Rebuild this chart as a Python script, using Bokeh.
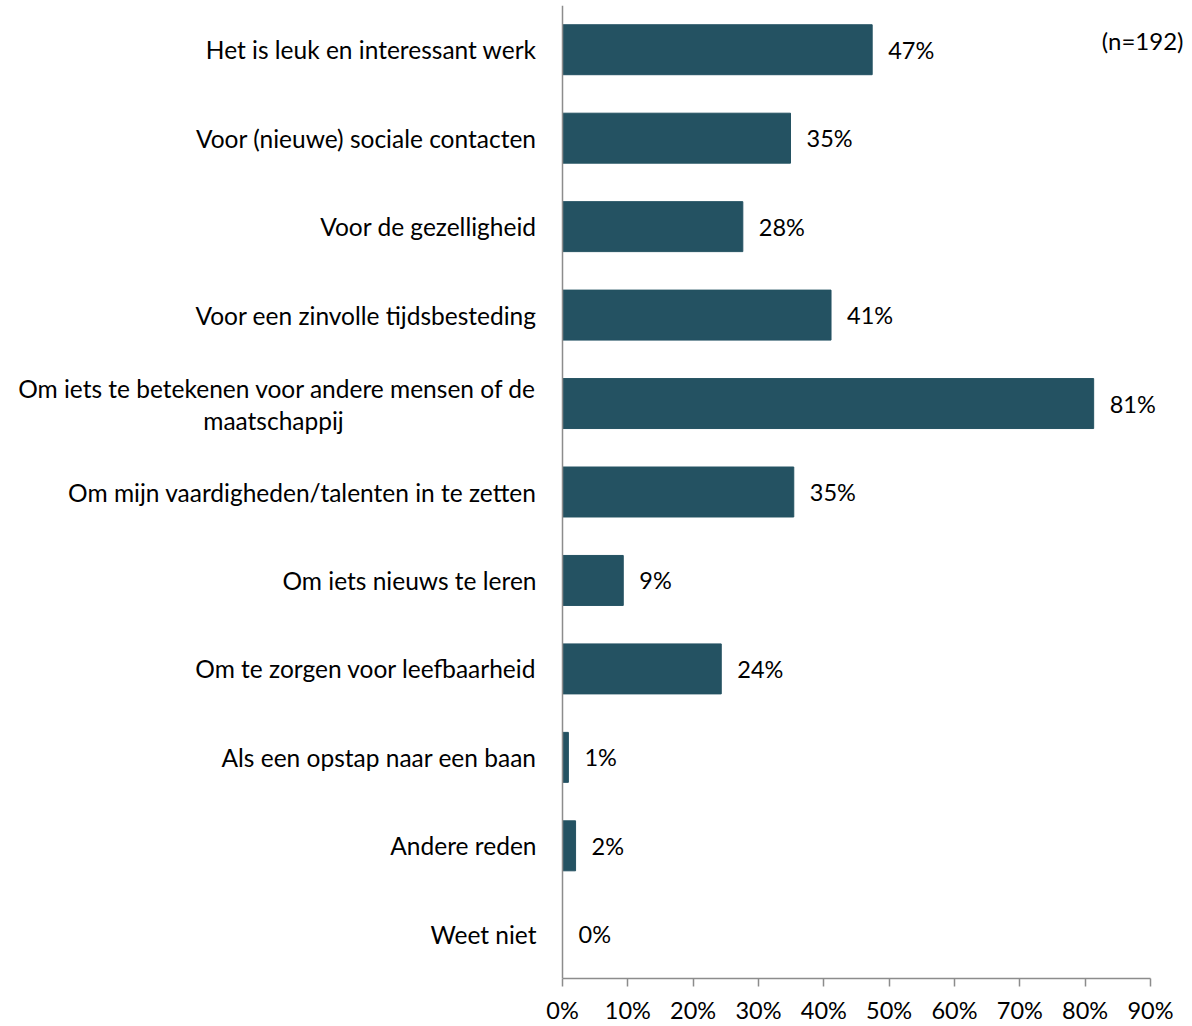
from bokeh.plotting import figure
from bokeh.models import Range1d, FixedTicker, Span, ColumnDataSource
from bokeh.core.properties import value
from bokeh.embed import file_html
from bokeh.resources import INLINE

categories = [
    "Het is leuk en interessant werk",
    "Voor (nieuwe) sociale contacten",
    "Voor de gezelligheid",
    "Voor een zinvolle tijdsbesteding",
    "Om iets te betekenen voor andere mensen of de\nmaatschappij",
    "Om mijn vaardigheden/talenten in te zetten",
    "Om iets nieuws te leren",
    "Om te zorgen voor leefbaarheid",
    "Als een opstap naar een baan",
    "Andere reden",
    "Weet niet",
]
values = [47.4, 34.9, 27.6, 41.1, 81.3, 35.4, 9.3, 24.3, 0.9, 2.0, 0.0]
value_labels = ["47%", "35%", "28%", "41%", "81%", "35%", "9%", "24%", "1%", "2%", "0%"]
x_ticks = [0, 10, 20, 30, 40, 50, 60, 70, 80, 90]
x_tick_labels = ["0%", "10%", "20%", "30%", "40%", "50%", "60%", "70%", "80%", "90%"]
note = "(n=192)"

FONT = "Lato"
FS = "23.5px"
FS_CAT = "24.5px"
BAR = "#245262"
GREY = "#8c8c8c"

W, H = 1188, 1026
TOP, BOTTOM = 5, 46
X0_PX, X90_PX = 562, 1150          # pixel positions of 0% and 90%
ppu = (X90_PX - X0_PX) / 90.0
x_start = -X0_PX / ppu
x_end = (W - X0_PX) / ppu

n = len(categories)
ypos = [i + 0.5 for i in range(n)]

p = figure(width=W, height=H, output_backend="svg", toolbar_location=None,
           x_range=Range1d(x_start, x_end), y_range=Range1d(n, 0),
           y_axis_location=None, min_border_left=0, min_border_right=0,
           min_border_top=TOP, min_border_bottom=BOTTOM)
p.outline_line_color = None
p.xgrid.visible = False
p.ygrid.visible = False

src = ColumnDataSource(dict(y=ypos, v=values, lab=value_labels))
p.hbar(y="y", left=0, right="v", height=0.565, color=BAR, source=src)
p.text(x="v", y="y", text="lab", source=src, x_offset=16, text_align="left",
       text_baseline="middle", text_font=value(FONT), text_font_size=FS, text_color="black")

# category labels
single_y, single_t = [], []
for i, c in enumerate(categories):
    parts = c.split("\n")
    if len(parts) == 1:
        single_y.append(ypos[i]); single_t.append(c)
    else:
        p.text(x=[0], y=[ypos[i]], text=[parts[0]], x_offset=-26, y_offset=-15,
               text_align="right", text_baseline="middle", text_font=value(FONT),
               text_font_size=FS_CAT, text_color="black")
        p.text(x=[0], y=[ypos[i]], text=[parts[1]], x_offset=-289, y_offset=17,
               text_align="center", text_baseline="middle", text_font=value(FONT),
               text_font_size=FS_CAT, text_color="black")
p.text(x=[0]*len(single_y), y=single_y, text=single_t, x_offset=-26,
       text_align="right", text_baseline="middle", text_font=value(FONT),
       text_font_size=FS_CAT, text_color="black")

p.text(x=[x_end], y=[0.4], text=[note], x_offset=-5, text_align="right",
       text_baseline="middle", text_font=value(FONT), text_font_size="24px", text_color="black")

p.add_layout(Span(location=0, dimension="height", line_color=GREY, line_width=1.5))

ax = p.xaxis[0]
ax.bounds = (0, 90)
ax.ticker = FixedTicker(ticks=x_ticks)
ax.major_label_overrides = {t: l for t, l in zip(x_ticks, x_tick_labels)}
ax.axis_line_color = GREY
ax.axis_line_width = 1.5
ax.major_tick_line_color = GREY
ax.major_tick_line_width = 1.5
ax.major_tick_in = 0
ax.major_tick_out = 8
ax.minor_tick_line_color = None
ax.major_label_text_font = FONT
ax.major_label_text_font_size = FS
ax.major_label_text_color = "black"
ax.major_label_standoff = 9

open("out.html", "w").write(file_html(p, INLINE))
